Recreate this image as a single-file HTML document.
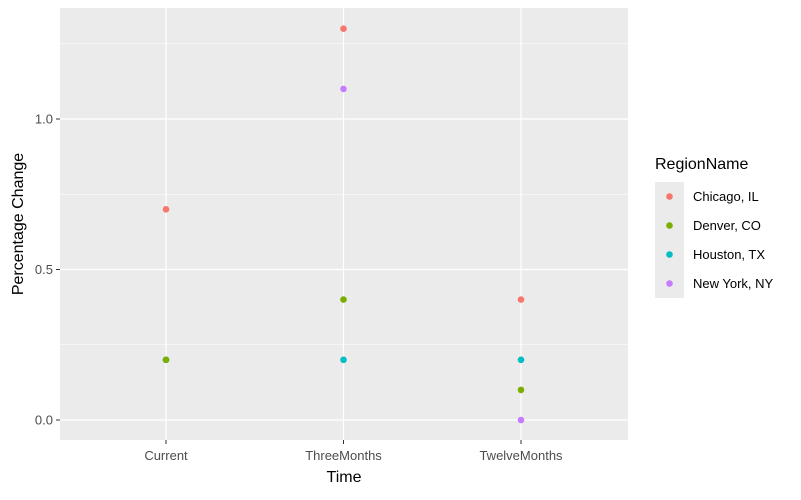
<!DOCTYPE html>
<html><head><meta charset="utf-8"><style>
body{margin:0;background:#fff;font-family:"Liberation Sans",sans-serif;}
</style></head><body>
<svg id="chart" width="801" height="495" xmlns="http://www.w3.org/2000/svg" font-family="Liberation Sans, sans-serif">
<rect x="0" y="0" width="801" height="495" fill="#fff"/>
<rect x="60" y="8" width="568" height="432" fill="#EBEBEB"/>
<g id="grid"></g>
<g id="ticks"></g>
<g id="points"></g>
<text x="344" y="482" text-anchor="middle" font-size="16" fill="#000">Time</text>
<text transform="translate(23,224) rotate(-90)" text-anchor="middle" font-size="16" fill="#000">Percentage Change</text>
<g id="legend">
<text x="655" y="169" font-size="16" fill="#000">RegionName</text>
</g>
</svg>
<script>
const categories=["Current","ThreeMonths","TwelveMonths"];
const regions=["Chicago, IL","Denver, CO","Houston, TX","New York, NY"];
const colors=["#F8766D","#7CAE00","#00BFC4","#C77CFF"];
const chicago=[0.7,1.3,0.4];
const denver=[0.2,0.4,0.1];
const houston=[0.2,0.2,0.2];
const newyork=[0.2,1.1,0.0];
const yTicks=[0,0.5,1.0];
const yTickLabels=["0.0","0.5","1.0"];
const yMinor=[0.25,0.75,1.25];
const NS="http://www.w3.org/2000/svg";
const x=i=>166+i*177.5;
const y=v=>420-v*301;
function mk(t,a,p){const e=document.createElementNS(NS,t);for(const k in a)e.setAttribute(k,a[k]);p.appendChild(e);return e;}
const grid=document.getElementById('grid'),ticks=document.getElementById('ticks'),pts=document.getElementById('points');
yMinor.forEach(v=>{const l=mk('line',{x1:60,x2:628,y1:y(v),y2:y(v),stroke:'#fff','stroke-width':0.6},grid);

});
yTicks.forEach((v,i)=>{const l=mk('line',{x1:60,x2:628,y1:y(v),y2:y(v),stroke:'#fff','stroke-width':1.2},grid);


const tk=mk('line',{x1:56,x2:60,y1:y(v),y2:y(v),stroke:'#333','stroke-width':1},ticks);


const t=mk('text',{x:53,y:y(v)+4.5,'text-anchor':'end','font-size':13,fill:'#4D4D4D'},ticks);t.textContent=yTickLabels[i];

});
categories.forEach((c,i)=>{const l=mk('line',{x1:x(i),x2:x(i),y1:8,y2:440,stroke:'#fff','stroke-width':1.2},grid);


const tk=mk('line',{x1:x(i),x2:x(i),y1:440,y2:444,stroke:'#333','stroke-width':1},ticks);


const t=mk('text',{x:x(i),y:460,'text-anchor':'middle','font-size':13,fill:'#4D4D4D'},ticks);t.textContent=c;

});
const series=[chicago,denver,houston,newyork];
[3,2,1,0].forEach(s=>{series[s].forEach((v,i)=>{const p=mk('circle',{cx:x(i),cy:y(v),r:3.3,fill:colors[s]},pts);

});});
const lg=document.getElementById('legend');
regions.forEach((r,i)=>{const yy=182+i*29;
const b=mk('rect',{x:655,y:yy,width:29,height:29,fill:'#EBEBEB'},lg);


const c=mk('circle',{cx:669.5,cy:yy+14.5,r:3.3,fill:colors[i]},lg);


const t=mk('text',{x:693,y:yy+19,'font-size':13,fill:'#000'},lg);t.textContent=r;

});
</script>
</body></html>
